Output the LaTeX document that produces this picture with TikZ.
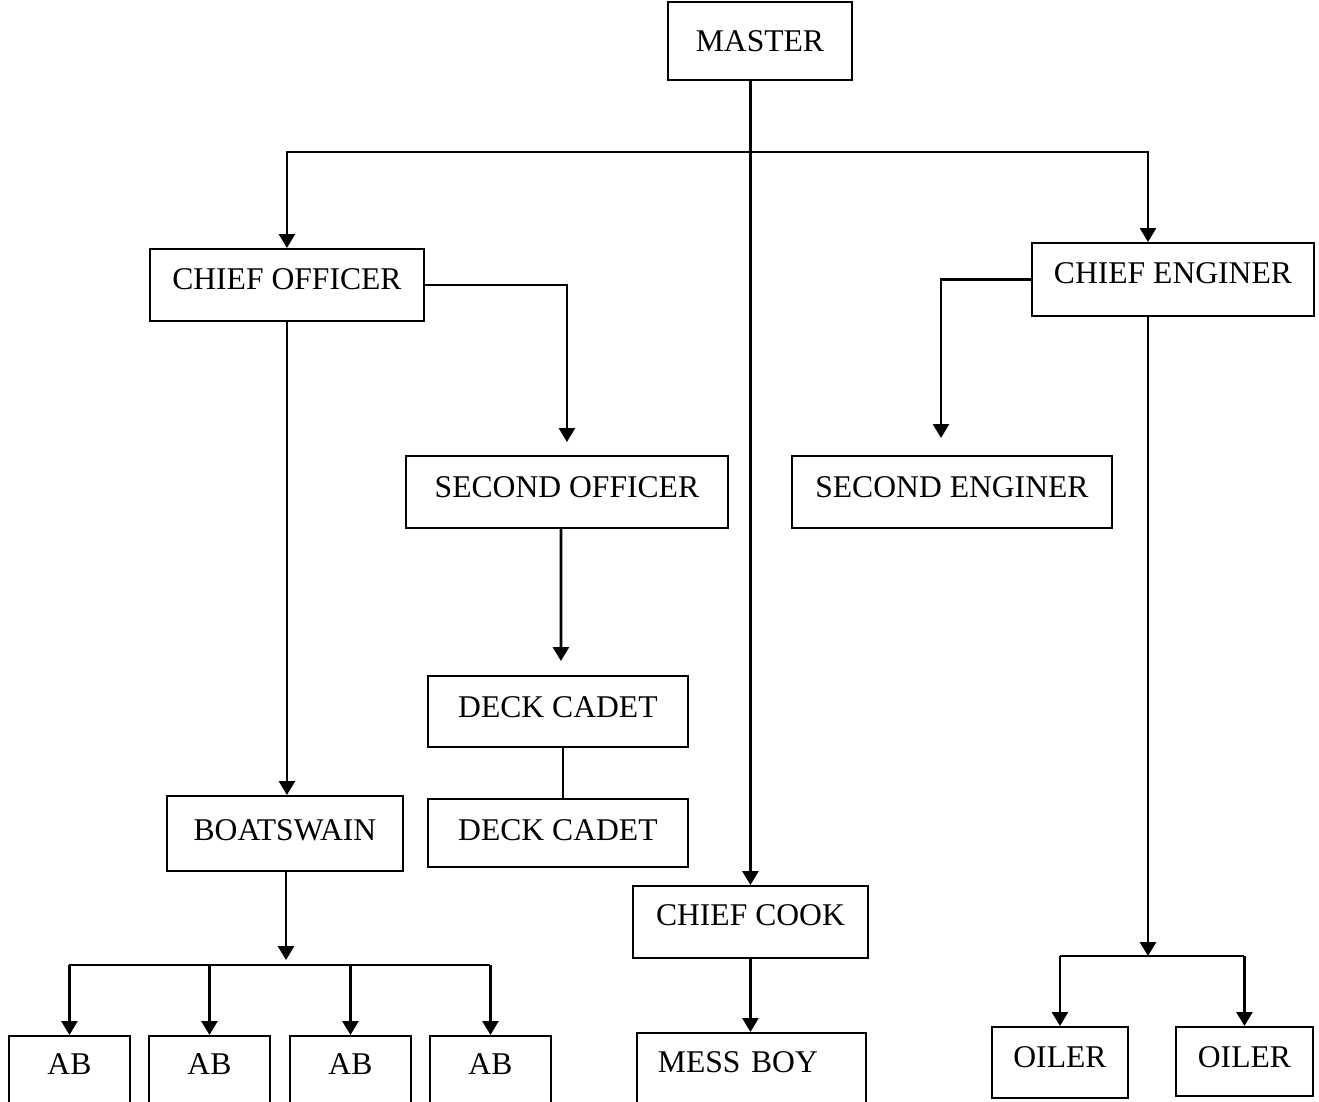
\documentclass[tikz,border=0pt]{standalone}
\usepackage{fontspec}
\setmainfont{Liberation Serif}
\usetikzlibrary{arrows.meta}
\tikzset{
  post/.style={draw, line width=1.1pt, anchor=north west, inner sep=0pt,
    text height=0.82cm, text depth=0.62cm, font=\fontsize{18}{20}\selectfont},
  link/.style={line width=1.5pt},
  arr/.style={link, -{Triangle[length=0.28cm,width=0.32cm]}}
}
\begin{document}
\begin{tikzpicture}[x=0.02cm, y=-0.02cm]
        \clip (0,0) rectangle (1319,1102);
        % top of the chart
        \node[post, minimum width=3.68cm, text height=1.0cm, text depth=0.56cm] (master) at (667,1) {MASTER};
        \node[post, minimum width=5.48cm] (co) at (149,248) {CHIEF OFFICER};
        \node[post, minimum width=5.64cm, text depth=0.64cm] (ce) at (1031,242) {CHIEF ENGINER};
        \node[post, minimum width=6.44cm, text height=0.84cm, text depth=0.60cm] (so) at (405,455) {SECOND OFFICER};
        \node[post, minimum width=6.40cm, text height=0.84cm, text depth=0.60cm] (se) at (791,455) {SECOND ENGINER};
        \node[post, minimum width=5.2cm, text height=0.84cm, text depth=0.58cm] (dc1) at (427,675) {DECK CADET};
        \node[post, minimum width=5.2cm, text height=0.84cm, text depth=0.52cm] (dc2) at (427,798) {DECK CADET};
        \node[post, minimum width=4.72cm, text height=0.90cm, text depth=0.60cm] (bs) at (166,795) {BOATSWAIN};
        \node[post, minimum width=4.70cm, text height=0.80cm, text depth=0.64cm] (cook) at (632,885) {CHIEF COOK};
        \node[post, text width=3.74cm, inner xsep=0.42cm, align=left, text height=0.80cm, text depth=1.6cm] (mess) at (636,1032) {MESS BOY};
        % bottom row
        \foreach \x/\n in {8/1,148/2,289/3,429/4}
            \node[post, minimum width=2.42cm, text height=0.78cm, text depth=1.6cm] (ab\n) at (\x,1035) {AB};
        \node[post, minimum width=2.72cm, text depth=0.60cm] (oil1) at (991,1026) {OILER};
        \node[post, minimum width=2.74cm, text depth=0.56cm] (oil2) at (1175,1026) {OILER};
        % connectors
        \coordinate (bar) at (750,152);
        \coordinate (ceTop) at (1148,242);
        \coordinate (seIn) at (941,455);
        \coordinate (abBar) at (286,965);
        \coordinate (oilBar) at (1148,956);
        \draw[arr] (master.south -| cook.north) -- (cook.north);
        \draw[arr] (bar) -| (co.north);
        \draw[arr] (bar) -| (ceTop);
        \draw[arr, shorten >=0.26cm] (co.east) -| (so.north);
        \draw[arr, shorten >=0.34cm] (ce.west) -| (seIn);
        \draw[arr, shorten >=0.28cm] ([xshift=-0.12cm]so.south) -- ([xshift=0.06cm]dc1.north);
        \draw[link] ([xshift=0.1cm]dc1.south) -- ([xshift=0.1cm]dc2.north);
        \draw[arr] (co.south) -- (co.south |- bs.north);
        \draw[arr, shorten >=0.1cm] (bs.south -| abBar) -- (abBar);
        \draw[link] (ab1.north |- abBar) -- (ab4.north |- abBar);
        \foreach \n in {1,...,4}
            \draw[arr] (ab\n.north |- abBar) -- (ab\n.north);
        \draw[arr] (cook.south) -- (cook.south |- mess.north);
        \draw[arr] (ceTop |- ce.south) -- (oilBar);
        \draw[link] (oil1.north |- oilBar) -- (oil2.north |- oilBar);
        \draw[arr] (oil1.north |- oilBar) -- (oil1.north);
        \draw[arr] (oil2.north |- oilBar) -- (oil2.north);
\end{tikzpicture}
\end{document}
